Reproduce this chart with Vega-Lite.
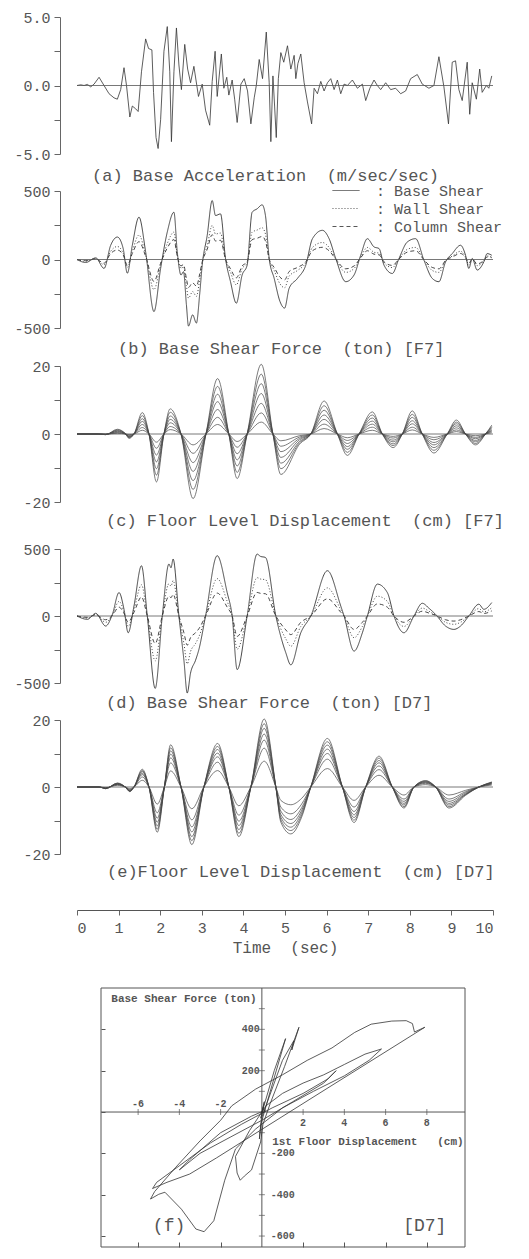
{
"$schema": "https://vega.github.io/schema/vega-lite/v6.json",
"background": "white",
"padding": {"left": 13, "top": 10, "right": 5, "bottom": 2},
"spacing": 0,
"bounds": "flush",
"resolve": {"scale": {"x": "independent", "y": "independent", "strokeDash": "independent"}, "legend": {"strokeDash": "independent"}},
"config": {
  "view": {"stroke": null},
  "font": "Liberation Mono",
  "axis": {"labelFont": "Liberation Mono", "labelFontSize": 15, "labelColor": "#555", "domainColor": "#666", "tickColor": "#666", "grid": false, "titleFont": "Liberation Mono", "titleColor": "#555", "titleFontWeight": "normal"},
  "title": {"font": "Liberation Mono", "fontSize": 17, "fontWeight": "normal", "color": "#555"},
  "line": {"stroke": "#333", "strokeWidth": 0.9}
},
"datasets": {
"acc": [
{"t":0,"a":0},{"t":0.09,"a":0.05},{"t":0.17,"a":0},{"t":0.25,"a":0.08},{"t":0.33,"a":-0.1},{"t":0.41,"a":0.1},{"t":0.53,"a":0.6},{"t":0.65,"a":0},{"t":0.77,"a":-0.6},{"t":0.89,"a":-0.9},{"t":0.97,"a":-1.0},{"t":1.05,"a":-0.3},{"t":1.13,"a":1.3},{"t":1.19,"a":0},{"t":1.27,"a":-2.3},{"t":1.33,"a":-1.5},{"t":1.41,"a":-1.7},{"t":1.47,"a":-1.9},{"t":1.55,"a":1.0},{"t":1.65,"a":3.4},{"t":1.72,"a":2.7},{"t":1.8,"a":2.6},{"t":1.84,"a":-0.5},{"t":1.9,"a":-3.8},{"t":1.95,"a":-4.6},{"t":2.01,"a":-2.5},{"t":2.09,"a":2.5},{"t":2.17,"a":4.3},{"t":2.23,"a":1.0},{"t":2.27,"a":-4.1},{"t":2.33,"a":1.0},{"t":2.39,"a":4.2},{"t":2.45,"a":1.5},{"t":2.51,"a":-0.3},{"t":2.59,"a":3.0},{"t":2.66,"a":1.2},{"t":2.73,"a":0.2},{"t":2.81,"a":1.4},{"t":2.92,"a":-0.8},{"t":3.01,"a":0.1},{"t":3.09,"a":-1.8},{"t":3.19,"a":-2.9},{"t":3.25,"a":0.3},{"t":3.32,"a":2.5},{"t":3.37,"a":-0.8},{"t":3.47,"a":2.3},{"t":3.53,"a":-0.2},{"t":3.6,"a":0.6},{"t":3.65,"a":-0.7},{"t":3.73,"a":0.4},{"t":3.79,"a":-1.0},{"t":3.85,"a":-2.7},{"t":3.94,"a":0.1},{"t":4.02,"a":0.5},{"t":4.1,"a":-0.4},{"t":4.18,"a":-2.8},{"t":4.26,"a":-0.9},{"t":4.31,"a":0},{"t":4.38,"a":1.9},{"t":4.46,"a":0.5},{"t":4.55,"a":3.9},{"t":4.62,"a":0.2},{"t":4.66,"a":-4.1},{"t":4.71,"a":0.7},{"t":4.75,"a":-1.5},{"t":4.79,"a":-3.8},{"t":4.84,"a":0.5},{"t":4.9,"a":2.4},{"t":4.97,"a":1.7},{"t":5.06,"a":2.9},{"t":5.14,"a":1.2},{"t":5.22,"a":2.2},{"t":5.26,"a":0.5},{"t":5.31,"a":1.6},{"t":5.38,"a":2.3},{"t":5.46,"a":0.2},{"t":5.54,"a":-1.2},{"t":5.64,"a":-2.8},{"t":5.7,"a":-0.2},{"t":5.78,"a":-0.6},{"t":5.86,"a":0.3},{"t":5.94,"a":-0.4},{"t":6.02,"a":0.2},{"t":6.1,"a":0.5},{"t":6.18,"a":-0.3},{"t":6.26,"a":0.4},{"t":6.34,"a":-0.6},{"t":6.42,"a":0.1},{"t":6.5,"a":0},{"t":6.62,"a":0.4},{"t":6.74,"a":-0.2},{"t":6.86,"a":0.1},{"t":6.94,"a":-1.1},{"t":7.04,"a":-0.2},{"t":7.14,"a":0.4},{"t":7.22,"a":0},{"t":7.3,"a":-0.3},{"t":7.42,"a":0.2},{"t":7.54,"a":-0.3},{"t":7.66,"a":-0.2},{"t":7.78,"a":-0.6},{"t":7.9,"a":-0.4},{"t":8.02,"a":0.5},{"t":8.18,"a":0.8},{"t":8.3,"a":0.1},{"t":8.46,"a":-0.2},{"t":8.58,"a":0},{"t":8.7,"a":2.1},{"t":8.82,"a":-0.1},{"t":8.93,"a":-2.8},{"t":9.02,"a":1.7},{"t":9.1,"a":1.8},{"t":9.18,"a":-0.3},{"t":9.26,"a":-1.1},{"t":9.38,"a":1.7},{"t":9.44,"a":-2.1},{"t":9.5,"a":0.2},{"t":9.6,"a":-1.0},{"t":9.68,"a":1.2},{"t":9.74,"a":-0.5},{"t":9.84,"a":0},{"t":9.9,"a":-0.2},{"t":9.97,"a":0.7}
],
"bsF7": [
{"t":0,"Base":0,"Wall":0,"Column":0},{"t":0.21,"Base":-22,"Wall":-13,"Column":-9},{"t":0.45,"Base":12,"Wall":7,"Column":5},{"t":0.65,"Base":-65,"Wall":-38,"Column":-27},{"t":0.81,"Base":104,"Wall":60,"Column":44},{"t":0.97,"Base":164,"Wall":95,"Column":69},{"t":1.11,"Base":80,"Wall":46,"Column":34},{"t":1.21,"Base":-100,"Wall":-58,"Column":-42},{"t":1.33,"Base":104,"Wall":60,"Column":44},{"t":1.49,"Base":309,"Wall":179,"Column":130},{"t":1.65,"Base":56,"Wall":32,"Column":24},{"t":1.85,"Base":-380,"Wall":-220,"Column":-160},{"t":2.01,"Base":-65,"Wall":-38,"Column":-27},{"t":2.17,"Base":200,"Wall":116,"Column":84},{"t":2.33,"Base":345,"Wall":200,"Column":145},{"t":2.41,"Base":56,"Wall":32,"Column":24},{"t":2.5,"Base":-113,"Wall":-66,"Column":-47},{"t":2.56,"Base":-89,"Wall":-52,"Column":-37},{"t":2.63,"Base":-330,"Wall":-191,"Column":-139},{"t":2.68,"Base":-486,"Wall":-282,"Column":-204},{"t":2.78,"Base":-404,"Wall":-234,"Column":-170},{"t":2.87,"Base":-464,"Wall":-269,"Column":-195},{"t":2.95,"Base":-250,"Wall":-145,"Column":-105},{"t":3.01,"Base":-41,"Wall":-24,"Column":-17},{"t":3.13,"Base":176,"Wall":102,"Column":74},{"t":3.25,"Base":430,"Wall":249,"Column":181},{"t":3.33,"Base":321,"Wall":186,"Column":135},{"t":3.45,"Base":333,"Wall":193,"Column":140},{"t":3.57,"Base":7,"Wall":4,"Column":3},{"t":3.69,"Base":-162,"Wall":-94,"Column":-68},{"t":3.83,"Base":-319,"Wall":-185,"Column":-134},{"t":3.97,"Base":-113,"Wall":-66,"Column":-47},{"t":4.09,"Base":-41,"Wall":-24,"Column":-17},{"t":4.21,"Base":345,"Wall":200,"Column":145},{"t":4.33,"Base":370,"Wall":215,"Column":155},{"t":4.45,"Base":399,"Wall":231,"Column":168},{"t":4.53,"Base":321,"Wall":186,"Column":135},{"t":4.62,"Base":7,"Wall":4,"Column":3},{"t":4.74,"Base":-138,"Wall":-80,"Column":-58},{"t":4.88,"Base":-307,"Wall":-178,"Column":-129},{"t":4.99,"Base":-355,"Wall":-206,"Column":-149},{"t":5.1,"Base":-210,"Wall":-122,"Column":-88},{"t":5.3,"Base":-138,"Wall":-80,"Column":-58},{"t":5.5,"Base":-41,"Wall":-24,"Column":-17},{"t":5.66,"Base":152,"Wall":88,"Column":64},{"t":5.9,"Base":213,"Wall":124,"Column":89},{"t":6.06,"Base":152,"Wall":88,"Column":64},{"t":6.22,"Base":7,"Wall":4,"Column":3},{"t":6.46,"Base":-162,"Wall":-94,"Column":-68},{"t":6.66,"Base":-113,"Wall":-66,"Column":-47},{"t":6.82,"Base":31,"Wall":18,"Column":13},{"t":6.98,"Base":152,"Wall":88,"Column":64},{"t":7.14,"Base":92,"Wall":53,"Column":39},{"t":7.26,"Base":80,"Wall":46,"Column":34},{"t":7.38,"Base":-41,"Wall":-24,"Column":-17},{"t":7.58,"Base":-102,"Wall":-59,"Column":-43},{"t":7.74,"Base":7,"Wall":4,"Column":3},{"t":7.94,"Base":128,"Wall":74,"Column":54},{"t":8.14,"Base":152,"Wall":88,"Column":64},{"t":8.34,"Base":-5,"Wall":-3,"Column":-2},{"t":8.54,"Base":-138,"Wall":-80,"Column":-58},{"t":8.7,"Base":-162,"Wall":-94,"Column":-68},{"t":8.86,"Base":-17,"Wall":-10,"Column":-7},{"t":9.02,"Base":43,"Wall":25,"Column":18},{"t":9.22,"Base":104,"Wall":60,"Column":44},{"t":9.34,"Base":31,"Wall":18,"Column":13},{"t":9.42,"Base":-65,"Wall":-38,"Column":-27},{"t":9.5,"Base":7,"Wall":4,"Column":3},{"t":9.62,"Base":-77,"Wall":-45,"Column":-32},{"t":9.78,"Base":-17,"Wall":-10,"Column":-7},{"t":9.86,"Base":43,"Wall":25,"Column":18},{"t":9.97,"Base":31,"Wall":18,"Column":13}
],
"dF7": [
{"t":0,"f7":0,"f6":0,"f5":0,"f4":0,"f3":0,"f2":0,"f1":0},
{"t":0.5,"f7":0,"f6":0,"f5":0,"f4":0,"f3":0,"f2":0,"f1":0},
{"t":0.69,"f7":-0.2,"f6":-0.2,"f5":-0.1,"f4":-0.1,"f3":-0.1,"f2":-0.1,"f1":0},
{"t":0.97,"f7":1.4,"f6":1.2,"f5":1.0,"f4":0.8,"f3":0.6,"f2":0.4,"f1":0.2},
{"t":1.17,"f7":0,"f6":0,"f5":0,"f4":0,"f3":0,"f2":0,"f1":0},
{"t":1.25,"f7":-1.3,"f6":-1.1,"f5":-0.9,"f4":-0.8,"f3":-0.6,"f2":-0.4,"f1":-0.2},
{"t":1.37,"f7":0,"f6":0,"f5":0,"f4":0,"f3":0,"f2":0,"f1":0},
{"t":1.57,"f7":6.3,"f6":5.4,"f5":4.5,"f4":3.7,"f3":2.8,"f2":1.9,"f1":1.1},
{"t":1.73,"f7":0,"f6":0,"f5":0,"f4":0,"f3":0,"f2":0,"f1":0},
{"t":1.91,"f7":-14.1,"f6":-12.1,"f5":-10.2,"f4":-8.2,"f3":-6.2,"f2":-4.2,"f1":-2.4},
{"t":2.09,"f7":0,"f6":0,"f5":0,"f4":0,"f3":0,"f2":0,"f1":0},
{"t":2.24,"f7":7.4,"f6":6.4,"f5":5.3,"f4":4.3,"f3":3.3,"f2":2.2,"f1":1.3},
{"t":2.5,"f7":0,"f6":0,"f5":0,"f4":0,"f3":0,"f2":0,"f1":0},
{"t":2.79,"f7":-19,"f6":-16.3,"f5":-13.7,"f4":-11,"f3":-8.4,"f2":-5.7,"f1":-3.2},
{"t":3.1,"f7":0,"f6":0,"f5":0,"f4":0,"f3":0,"f2":0,"f1":0},
{"t":3.38,"f7":16.3,"f6":14,"f5":11.7,"f4":9.5,"f3":7.2,"f2":4.9,"f1":2.8},
{"t":3.65,"f7":0,"f6":0,"f5":0,"f4":0,"f3":0,"f2":0,"f1":0},
{"t":3.85,"f7":-13.1,"f6":-11.3,"f5":-9.4,"f4":-7.6,"f3":-5.8,"f2":-3.9,"f1":-2.2},
{"t":4.09,"f7":0,"f6":0,"f5":0,"f4":0,"f3":0,"f2":0,"f1":0},
{"t":4.43,"f7":20.5,"f6":17.6,"f5":14.8,"f4":11.9,"f3":9,"f2":6.2,"f1":3.5},
{"t":4.71,"f7":0,"f6":0,"f5":0,"f4":0,"f3":0,"f2":0,"f1":0},
{"t":4.9,"f7":-11.9,"f6":-10.2,"f5":-8.6,"f4":-6.9,"f3":-5.2,"f2":-3.6,"f1":-2},
{"t":5.35,"f7":-3,"f6":-2.6,"f5":-2.2,"f4":-1.7,"f3":-1.3,"f2":-0.9,"f1":-0.5},
{"t":5.62,"f7":0,"f6":0,"f5":0,"f4":0,"f3":0,"f2":0,"f1":0},
{"t":5.94,"f7":9.7,"f6":8.3,"f5":7,"f4":5.6,"f3":4.3,"f2":2.9,"f1":1.6},
{"t":6.26,"f7":0,"f6":0,"f5":0,"f4":0,"f3":0,"f2":0,"f1":0},
{"t":6.5,"f7":-6.3,"f6":-5.4,"f5":-4.5,"f4":-3.7,"f3":-2.8,"f2":-1.9,"f1":-1.1},
{"t":6.78,"f7":0,"f6":0,"f5":0,"f4":0,"f3":0,"f2":0,"f1":0},
{"t":7.1,"f7":6.5,"f6":5.6,"f5":4.7,"f4":3.8,"f3":2.9,"f2":2,"f1":1.1},
{"t":7.34,"f7":0,"f6":0,"f5":0,"f4":0,"f3":0,"f2":0,"f1":0},
{"t":7.6,"f7":-4,"f6":-3.4,"f5":-2.9,"f4":-2.3,"f3":-1.8,"f2":-1.2,"f1":-0.7},
{"t":7.82,"f7":0,"f6":0,"f5":0,"f4":0,"f3":0,"f2":0,"f1":0},
{"t":8.06,"f7":6.8,"f6":5.8,"f5":4.9,"f4":3.9,"f3":3,"f2":2,"f1":1.2},
{"t":8.3,"f7":0,"f6":0,"f5":0,"f4":0,"f3":0,"f2":0,"f1":0},
{"t":8.58,"f7":-5.6,"f6":-4.8,"f5":-4,"f4":-3.2,"f3":-2.5,"f2":-1.7,"f1":-1},
{"t":8.9,"f7":0,"f6":0,"f5":0,"f4":0,"f3":0,"f2":0,"f1":0},
{"t":9.12,"f7":4.1,"f6":3.5,"f5":3,"f4":2.4,"f3":1.8,"f2":1.2,"f1":0.7},
{"t":9.34,"f7":0,"f6":0,"f5":0,"f4":0,"f3":0,"f2":0,"f1":0},
{"t":9.58,"f7":-3.2,"f6":-2.8,"f5":-2.3,"f4":-1.9,"f3":-1.4,"f2":-1,"f1":-0.5},
{"t":9.82,"f7":0,"f6":0,"f5":0,"f4":0,"f3":0,"f2":0,"f1":0},
{"t":9.97,"f7":2.6,"f6":2.2,"f5":1.9,"f4":1.5,"f3":1.1,"f2":0.8,"f1":0.4}
],
"bsD7": [
{"t":0,"Base":0,"Wall":0,"Column":0},{"t":0.25,"Base":-25,"Wall":-16,"Column":-10},{"t":0.45,"Base":20,"Wall":12,"Column":8},{"t":0.69,"Base":-75,"Wall":-47,"Column":-28},{"t":0.85,"Base":12,"Wall":7,"Column":5},{"t":1.01,"Base":175,"Wall":109,"Column":66},{"t":1.13,"Base":50,"Wall":31,"Column":19},{"t":1.23,"Base":-125,"Wall":-78,"Column":-47},{"t":1.37,"Base":75,"Wall":47,"Column":28},{"t":1.55,"Base":375,"Wall":233,"Column":142},{"t":1.69,"Base":0,"Wall":0,"Column":0},{"t":1.88,"Base":-540,"Wall":-335,"Column":-205},{"t":2.05,"Base":0,"Wall":0,"Column":0},{"t":2.21,"Base":388,"Wall":241,"Column":147},{"t":2.26,"Base":360,"Wall":223,"Column":137},{"t":2.31,"Base":425,"Wall":264,"Column":161},{"t":2.45,"Base":0,"Wall":0,"Column":0},{"t":2.57,"Base":-330,"Wall":-205,"Column":-125},{"t":2.65,"Base":-575,"Wall":-357,"Column":-218},{"t":2.73,"Base":-425,"Wall":-264,"Column":-161},{"t":2.85,"Base":-330,"Wall":-205,"Column":-125},{"t":2.93,"Base":-250,"Wall":-155,"Column":-95},{"t":3.09,"Base":0,"Wall":0,"Column":0},{"t":3.37,"Base":450,"Wall":279,"Column":171},{"t":3.61,"Base":175,"Wall":109,"Column":66},{"t":3.73,"Base":0,"Wall":0,"Column":0},{"t":3.85,"Base":-400,"Wall":-248,"Column":-152},{"t":4.09,"Base":0,"Wall":0,"Column":0},{"t":4.33,"Base":462,"Wall":286,"Column":176},{"t":4.41,"Base":445,"Wall":276,"Column":169},{"t":4.53,"Base":437,"Wall":271,"Column":166},{"t":4.78,"Base":0,"Wall":0,"Column":0},{"t":5.02,"Base":-275,"Wall":-171,"Column":-104},{"t":5.14,"Base":-365,"Wall":-226,"Column":-139},{"t":5.38,"Base":-125,"Wall":-78,"Column":-47},{"t":5.62,"Base":0,"Wall":0,"Column":0},{"t":6.02,"Base":338,"Wall":210,"Column":128},{"t":6.34,"Base":75,"Wall":47,"Column":28},{"t":6.42,"Base":0,"Wall":0,"Column":0},{"t":6.66,"Base":-262,"Wall":-162,"Column":-100},{"t":6.86,"Base":-125,"Wall":-78,"Column":-47},{"t":6.98,"Base":0,"Wall":0,"Column":0},{"t":7.22,"Base":238,"Wall":148,"Column":90},{"t":7.46,"Base":175,"Wall":109,"Column":66},{"t":7.62,"Base":0,"Wall":0,"Column":0},{"t":7.86,"Base":-125,"Wall":-78,"Column":-47},{"t":8.1,"Base":0,"Wall":0,"Column":0},{"t":8.3,"Base":95,"Wall":59,"Column":36},{"t":8.46,"Base":58,"Wall":36,"Column":22},{"t":8.62,"Base":12,"Wall":7,"Column":5},{"t":8.86,"Base":-75,"Wall":-47,"Column":-28},{"t":9.06,"Base":-100,"Wall":-62,"Column":-38},{"t":9.22,"Base":-75,"Wall":-47,"Column":-28},{"t":9.42,"Base":0,"Wall":0,"Column":0},{"t":9.66,"Base":88,"Wall":55,"Column":33},{"t":9.78,"Base":50,"Wall":31,"Column":19},{"t":9.97,"Base":100,"Wall":62,"Column":38}
],
"dD7": [
{"t":0,"f7":0,"f6":0,"f5":0,"f4":0,"f3":0,"f2":0,"f1":0},
{"t":0.53,"f7":0,"f6":0,"f5":0,"f4":0,"f3":0,"f2":0,"f1":0},
{"t":0.69,"f7":-0.5,"f6":-0.5,"f5":-0.4,"f4":-0.4,"f3":-0.3,"f2":-0.3,"f1":-0.2},
{"t":0.97,"f7":1.2,"f6":1.1,"f5":1.0,"f4":0.9,"f3":0.8,"f2":0.7,"f1":0.5},
{"t":1.16,"f7":0,"f6":0,"f5":0,"f4":0,"f3":0,"f2":0,"f1":0},
{"t":1.27,"f7":-1.4,"f6":-1.3,"f5":-1.2,"f4":-1.1,"f3":-1.0,"f2":-0.8,"f1":-0.5},
{"t":1.37,"f7":0,"f6":0,"f5":0,"f4":0,"f3":0,"f2":0,"f1":0},
{"t":1.57,"f7":5.3,"f6":4.9,"f5":4.6,"f4":4.1,"f3":3.7,"f2":3.0,"f1":2.0},
{"t":1.73,"f7":0,"f6":0,"f5":0,"f4":0,"f3":0,"f2":0,"f1":0},
{"t":1.93,"f7":-13.5,"f6":-12.6,"f5":-11.6,"f4":-10.5,"f3":-9.3,"f2":-7.7,"f1":-5.1},
{"t":2.1,"f7":0,"f6":0,"f5":0,"f4":0,"f3":0,"f2":0,"f1":0},
{"t":2.25,"f7":12.6,"f6":11.7,"f5":10.8,"f4":9.8,"f3":8.7,"f2":7.2,"f1":4.8},
{"t":2.5,"f7":0,"f6":0,"f5":0,"f4":0,"f3":0,"f2":0,"f1":0},
{"t":2.76,"f7":-17.2,"f6":-16.0,"f5":-14.8,"f4":-13.4,"f3":-11.9,"f2":-9.8,"f1":-6.5},
{"t":3.05,"f7":0,"f6":0,"f5":0,"f4":0,"f3":0,"f2":0,"f1":0},
{"t":3.38,"f7":13.0,"f6":12.1,"f5":11.2,"f4":10.1,"f3":9.0,"f2":7.4,"f1":4.9},
{"t":3.65,"f7":0,"f6":0,"f5":0,"f4":0,"f3":0,"f2":0,"f1":0},
{"t":3.89,"f7":-14.8,"f6":-13.8,"f5":-12.7,"f4":-11.5,"f3":-10.2,"f2":-8.4,"f1":-5.6},
{"t":4.18,"f7":0,"f6":0,"f5":0,"f4":0,"f3":0,"f2":0,"f1":0},
{"t":4.5,"f7":20.3,"f6":18.9,"f5":17.5,"f4":15.8,"f3":14.0,"f2":11.6,"f1":7.7},
{"t":4.78,"f7":0,"f6":0,"f5":0,"f4":0,"f3":0,"f2":0,"f1":0},
{"t":4.9,"f7":-10.5,"f6":-9.8,"f5":-9.0,"f4":-8.2,"f3":-7.2,"f2":-6.0,"f1":-4.0},
{"t":5.14,"f7":-14.0,"f6":-13.0,"f5":-12.0,"f4":-10.9,"f3":-9.7,"f2":-8.0,"f1":-5.3},
{"t":5.4,"f7":-9,"f6":-8.4,"f5":-7.7,"f4":-7.0,"f3":-6.2,"f2":-5.1,"f1":-3.4},
{"t":5.62,"f7":0,"f6":0,"f5":0,"f4":0,"f3":0,"f2":0,"f1":0},
{"t":6.02,"f7":14.5,"f6":13.5,"f5":12.5,"f4":11.3,"f3":10.0,"f2":8.3,"f1":5.5},
{"t":6.38,"f7":0,"f6":0,"f5":0,"f4":0,"f3":0,"f2":0,"f1":0},
{"t":6.66,"f7":-10.6,"f6":-9.9,"f5":-9.1,"f4":-8.3,"f3":-7.3,"f2":-6.0,"f1":-4.0},
{"t":6.94,"f7":0,"f6":0,"f5":0,"f4":0,"f3":0,"f2":0,"f1":0},
{"t":7.26,"f7":9.2,"f6":8.6,"f5":7.9,"f4":7.2,"f3":6.3,"f2":5.2,"f1":3.5},
{"t":7.58,"f7":0,"f6":0,"f5":0,"f4":0,"f3":0,"f2":0,"f1":0},
{"t":7.86,"f7":-6.3,"f6":-5.9,"f5":-5.4,"f4":-4.9,"f3":-4.3,"f2":-3.6,"f1":-2.4},
{"t":8.1,"f7":0,"f6":0,"f5":0,"f4":0,"f3":0,"f2":0,"f1":0},
{"t":8.38,"f7":1.9,"f6":1.8,"f5":1.6,"f4":1.5,"f3":1.3,"f2":1.1,"f1":0.7},
{"t":8.62,"f7":0,"f6":0,"f5":0,"f4":0,"f3":0,"f2":0,"f1":0},
{"t":8.94,"f7":-6.3,"f6":-5.9,"f5":-5.4,"f4":-4.9,"f3":-4.3,"f2":-3.6,"f1":-2.4},
{"t":9.34,"f7":-2.5,"f6":-2.3,"f5":-2.2,"f4":-2.0,"f3":-1.7,"f2":-1.4,"f1":-1.0},
{"t":9.66,"f7":0,"f6":0,"f5":0,"f4":0,"f3":0,"f2":0,"f1":0},
{"t":9.97,"f7":1.5,"f6":1.4,"f5":1.3,"f4":1.2,"f3":1.0,"f2":0.9,"f1":0.6}
],
"hyst": [
{"i":0,"x":0,"y":0},{"i":1,"x":0.12,"y":50},{"i":2,"x":-0.05,"y":-30},{"i":3,"x":0.08,"y":25},{"i":4,"x":0,"y":-5},{"i":5,"x":0.6,"y":200},{"i":6,"x":1.15,"y":355},{"i":7,"x":0.34,"y":77},{"i":8,"x":-0.05,"y":-60},{"i":9,"x":-0.12,"y":-130},{"i":10,"x":-0.02,"y":-30},{"i":11,"x":1.0,"y":250},{"i":12,"x":1.55,"y":345},{"i":13,"x":1.45,"y":300},{"i":14,"x":1.8,"y":410},{"i":15,"x":1.1,"y":220},{"i":16,"x":0.4,"y":40},{"i":17,"x":0.05,"y":-60},{"i":18,"x":-0.06,"y":-145},{"i":19,"x":-0.5,"y":-280},{"i":20,"x":-0.85,"y":-310},{"i":21,"x":-1.05,"y":-330},{"i":22,"x":-1.2,"y":-295},{"i":23,"x":-1.28,"y":-215},{"i":24,"x":-0.6,"y":-90},{"i":25,"x":0.2,"y":30},{"i":26,"x":1.0,"y":90},{"i":27,"x":2.0,"y":140},{"i":28,"x":3.0,"y":180},{"i":29,"x":4.0,"y":230},{"i":30,"x":5.0,"y":280},{"i":31,"x":5.8,"y":305},{"i":32,"x":5.2,"y":250},{"i":33,"x":4.0,"y":175},{"i":34,"x":2.5,"y":100},{"i":35,"x":1.0,"y":20},{"i":36,"x":-0.3,"y":-82},{"i":37,"x":-1.28,"y":-179},{"i":38,"x":-1.8,"y":-330},{"i":39,"x":-2.33,"y":-526},{"i":40,"x":-2.8,"y":-579},{"i":41,"x":-3.2,"y":-566},{"i":42,"x":-3.9,"y":-470},{"i":43,"x":-4.7,"y":-388},{"i":44,"x":-5.0,"y":-398},{"i":45,"x":-5.4,"y":-421},{"i":46,"x":-5.2,"y":-385},{"i":47,"x":-4.2,"y":-270},{"i":48,"x":-3.0,"y":-140},{"i":49,"x":-2.0,"y":-40},{"i":50,"x":-1.46,"y":30},{"i":51,"x":-0.3,"y":111},{"i":52,"x":1.0,"y":180},{"i":53,"x":2.2,"y":250},{"i":54,"x":3.4,"y":310},{"i":55,"x":4.5,"y":385},{"i":56,"x":5.3,"y":425},{"i":57,"x":6.3,"y":440},{"i":58,"x":7.0,"y":442},{"i":59,"x":7.3,"y":428},{"i":60,"x":7.4,"y":387},{"i":61,"x":7.9,"y":410},{"i":62,"x":3.4,"y":129},{"i":63,"x":0,"y":-84},{"i":64,"x":-2.2,"y":-222},{"i":65,"x":-3.5,"y":-300},{"i":66,"x":-4.6,"y":-340},{"i":67,"x":-5.3,"y":-370},{"i":68,"x":-5.1,"y":-340},{"i":69,"x":-4.0,"y":-260},{"i":70,"x":-2.5,"y":-150},{"i":71,"x":-1.0,"y":-60},{"i":72,"x":0.5,"y":20},{"i":73,"x":2.0,"y":90},{"i":74,"x":3.2,"y":160},{"i":75,"x":3.6,"y":200},{"i":76,"x":3.0,"y":140},{"i":77,"x":1.5,"y":50},{"i":78,"x":0,"y":-40},{"i":79,"x":-1.5,"y":-120},{"i":80,"x":-3.0,"y":-200},{"i":81,"x":-4.0,"y":-280},{"i":82,"x":-3.5,"y":-230},{"i":83,"x":-2.0,"y":-100},{"i":84,"x":-0.5,"y":-20},{"i":85,"x":0.2,"y":10}
]
},
"vconcat": [
{
  "width": 416, "height": 174,
  "title": {"text": "(a) Base Acceleration \u00a0(m/sec/sec)", "orient": "bottom", "anchor": "start", "align": "left", "frame": "group", "baseline": "middle", "offset": -15, "dx": 15},
  "layer": [
    {"data": {"name": "acc"}, "mark": {"type": "line", "strokeWidth": 0.8},
     "encoding": {
       "x": {"field": "t", "type": "quantitative", "scale": {"domain": [0, 10], "nice": false}, "axis": null},
       "y": {"field": "a", "type": "quantitative", "scale": {"domain": [-5, 5], "range": [137, 0], "nice": false},
             "axis": {"title": null, "offset": 17, "values": [-5, -2.5, 0, 2.5, 5], "tickSize": 6, "labelPadding": 4,
                      "labelExpr": "datum.value == 5 ? '5.0' : datum.value == 0 ? '0.0' : datum.value == -5 ? '-5.0' : ''"}}}},
    {"data": {"values": [{}]}, "mark": {"type": "rule", "color": "#555", "strokeWidth": 0.8}, "encoding": {"y": {"datum": 0}}}
  ]
},
{
  "width": 416, "height": 175,
  "title": {"text": "(b) Base Shear Force \u00a0(ton) [F7]", "orient": "bottom", "anchor": "start", "align": "left", "frame": "group", "baseline": "middle", "offset": -17, "dx": 41},
  "layer": [
    {"data": {"name": "bsF7"}, "transform": [{"fold": ["Base", "Wall", "Column"], "as": ["series", "v"]}],
     "mark": {"type": "line", "interpolate": "monotone", "strokeWidth": 0.9},
     "encoding": {
       "x": {"field": "t", "type": "quantitative", "scale": {"domain": [0, 10], "nice": false}, "axis": null},
       "y": {"field": "v", "type": "quantitative", "scale": {"domain": [-500, 500], "range": [137, 0], "nice": false},
             "axis": {"title": null, "offset": 17, "values": [-500, -250, 0, 250, 500], "tickSize": 6, "labelPadding": 4,
                      "labelExpr": "datum.value == 500 ? '500' : datum.value == 0 ? '0' : datum.value == -500 ? '-500' : ''"}},
       "strokeDash": {"field": "series", "type": "nominal",
          "scale": {"domain": ["Base", "Wall", "Column"], "range": [[1, 0], [1, 2], [4, 3]]},
          "legend": {"orient": "none", "legendX": 255, "legendY": -9, "title": null, "symbolType": "stroke", "symbolSize": 730,
                     "symbolStrokeWidth": 1, "symbolStrokeColor": "#444", "clipHeight": 17, "rowPadding": 1, "labelOffset": 16,
                     "labelFont": "Liberation Mono", "labelFontSize": 15, "labelColor": "#555",
                     "labelExpr": "': ' + datum.label + ' Shear'"}}}},
    {"data": {"values": [{}]}, "mark": {"type": "rule", "color": "#555", "strokeWidth": 0.8}, "encoding": {"y": {"datum": 0}}}
  ]
},
{
  "width": 416, "height": 183,
  "title": {"text": "(c) Floor Level Displacement \u00a0(cm) [F7]", "orient": "bottom", "anchor": "start", "align": "left", "frame": "group", "baseline": "middle", "offset": -28, "dx": 29},
  "layer": [
    {"data": {"name": "dF7"}, "transform": [{"fold": ["f1", "f2", "f3", "f4", "f5", "f6", "f7"], "as": ["floor", "v"]}],
     "mark": {"type": "line", "interpolate": "monotone", "strokeWidth": 0.7, "stroke": "#444"},
     "encoding": {
       "x": {"field": "t", "type": "quantitative", "scale": {"domain": [0, 10], "nice": false}, "axis": null},
       "y": {"field": "v", "type": "quantitative", "scale": {"domain": [-20, 20], "range": [136, 0], "nice": false},
             "axis": {"title": null, "offset": 17, "values": [-20, -10, 0, 10, 20], "tickSize": 6, "labelPadding": 4,
                      "labelExpr": "datum.value == 20 ? '20' : datum.value == 0 ? '0' : datum.value == -20 ? '-20' : ''"}},
       "detail": {"field": "floor", "type": "nominal"}}},
    {"data": {"values": [{}]}, "mark": {"type": "rule", "color": "#555", "strokeWidth": 0.8}, "encoding": {"y": {"datum": 0}}}
  ]
},
{
  "width": 416, "height": 171,
  "title": {"text": "(d) Base Shear Force \u00a0(ton) [D7]", "orient": "bottom", "anchor": "start", "align": "left", "frame": "group", "baseline": "middle", "offset": -17, "dx": 29},
  "layer": [
    {"data": {"name": "bsD7"}, "transform": [{"fold": ["Base", "Wall", "Column"], "as": ["series", "v"]}],
     "mark": {"type": "line", "interpolate": "monotone", "strokeWidth": 0.9},
     "encoding": {
       "x": {"field": "t", "type": "quantitative", "scale": {"domain": [0, 10], "nice": false}, "axis": null},
       "y": {"field": "v", "type": "quantitative", "scale": {"domain": [-500, 500], "range": [134, 0], "nice": false},
             "axis": {"title": null, "offset": 17, "values": [-500, -250, 0, 250, 500], "tickSize": 6, "labelPadding": 4,
                      "labelExpr": "datum.value == 500 ? '500' : datum.value == 0 ? '0' : datum.value == -500 ? '-500' : ''"}},
       "strokeDash": {"field": "series", "type": "nominal",
          "scale": {"domain": ["Base", "Wall", "Column"], "range": [[1, 0], [1, 2], [4, 3]]}, "legend": null}}},
    {"data": {"values": [{}]}, "mark": {"type": "rule", "color": "#555", "strokeWidth": 0.8}, "encoding": {"y": {"datum": 0}}}
  ]
},
{
  "width": 416, "height": 190,
  "title": {"text": "(e)Floor Level Displacement \u00a0(cm) [D7]", "orient": "bottom", "anchor": "start", "align": "left", "frame": "group", "baseline": "middle", "offset": -38, "dx": 30},
  "layer": [
    {"data": {"name": "dD7"}, "transform": [{"fold": ["f1", "f2", "f3", "f4", "f5", "f6", "f7"], "as": ["floor", "v"]}],
     "mark": {"type": "line", "interpolate": "monotone", "strokeWidth": 0.7, "stroke": "#444"},
     "encoding": {
       "x": {"field": "t", "type": "quantitative", "scale": {"domain": [0, 10], "nice": false}, "axis": null},
       "y": {"field": "v", "type": "quantitative", "scale": {"domain": [-20, 20], "range": [134, 0], "nice": false},
             "axis": {"title": null, "offset": 17, "values": [-20, -10, 0, 10, 20], "tickSize": 6, "labelPadding": 4,
                      "labelExpr": "datum.value == 20 ? '20' : datum.value == 0 ? '0' : datum.value == -20 ? '-20' : ''"}},
       "detail": {"field": "floor", "type": "nominal"}}},
    {"data": {"values": [{}]}, "mark": {"type": "rule", "color": "#555", "strokeWidth": 0.8}, "encoding": {"y": {"datum": 0}}}
  ]
},
{
  "width": 416, "height": 78,
  "data": {"values": [{"t": 0}, {"t": 10}]},
  "mark": {"type": "point", "opacity": 0},
  "encoding": {
    "x": {"field": "t", "type": "quantitative", "scale": {"domain": [0, 10], "nice": false},
          "axis": {"orient": "bottom", "offset": -78, "values": [0,1,2,3,4,5,6,7,8,9,10], "tickSize": 5, "labelPadding": 5,
                   "labelFontSize": 15, "title": "Time \u00a0(sec)", "titleFontSize": 16, "titlePadding": 4, "domainColor": "#555"}}
  }
},
{
  "width": 388, "height": 259,
  "layer": [
    {"data": {"values": [{"x1": -7.8, "x2": 9.85, "y1": -653, "y2": 600}]},
     "mark": {"type": "rect", "filled": false, "stroke": "#555", "strokeWidth": 1},
     "encoding": {
       "x": {"field": "x1", "type": "quantitative", "scale": {"domain": [-7.8, 9.85], "range": [24, 388], "nice": false, "zero": false},
             "axis": {"title": null, "labels": false, "domain": false, "values": [-6, -4, -2, 2, 4, 6, 8], "tickSize": -5, "tickColor": "#555"}},
       "x2": {"field": "x2"},
       "y": {"field": "y1", "type": "quantitative", "scale": {"domain": [-653, 600], "nice": false, "zero": false},
             "axis": {"title": null, "labels": false, "domain": false, "offset": -24, "values": [-600, -500, -400, -300, -200, -100, 0, 100, 200, 300, 400, 500], "tickSize": -4, "tickColor": "#555"}},
       "y2": {"field": "y2"}}},
    {"data": {"values": [{"x1": -7.8, "x2": 9.85, "y1": 0, "y2": 0}, {"x1": 0, "x2": 0, "y1": -653, "y2": 600}]},
     "mark": {"type": "rule", "color": "#555", "strokeWidth": 1},
     "encoding": {"x": {"field": "x1", "type": "quantitative"}, "x2": {"field": "x2"}, "y": {"field": "y1", "type": "quantitative"}, "y2": {"field": "y2"}}},
    {"data": {"values": [{"x": -6}, {"x": -4}, {"x": -2}, {"x": 2}, {"x": 4}, {"x": 6}, {"x": 8}]},
     "mark": {"type": "tick", "orient": "vertical", "size": 6, "thickness": 1, "color": "#555"},
     "encoding": {"x": {"field": "x", "type": "quantitative"}, "y": {"datum": 0}}},
    {"data": {"values": [{"y": -600}, {"y": -500}, {"y": -400}, {"y": -300}, {"y": -200}, {"y": -100}, {"y": 100}, {"y": 200}, {"y": 300}, {"y": 400}, {"y": 500}]},
     "mark": {"type": "tick", "orient": "horizontal", "size": 6, "thickness": 1, "color": "#555"},
     "encoding": {"y": {"field": "y", "type": "quantitative"}, "x": {"datum": 0}}},
    {"data": {"values": [{"x": -6, "y": 0, "lab": "-6"}, {"x": -4, "y": 0, "lab": "-4"}, {"x": -2, "y": 0, "lab": "-2"}]},
     "mark": {"type": "text", "dy": -8, "font": "Liberation Mono", "fontSize": 10, "fontWeight": "bold", "color": "#555"},
     "encoding": {"x": {"field": "x", "type": "quantitative"}, "y": {"field": "y", "type": "quantitative"}, "text": {"field": "lab"}}},
    {"data": {"values": [{"x": 2, "y": 0, "lab": "2"}, {"x": 4, "y": 0, "lab": "4"}, {"x": 6, "y": 0, "lab": "6"}, {"x": 8, "y": 0, "lab": "8"}]},
     "mark": {"type": "text", "dy": 11, "font": "Liberation Mono", "fontSize": 10, "fontWeight": "bold", "color": "#555"},
     "encoding": {"x": {"field": "x", "type": "quantitative"}, "y": {"field": "y", "type": "quantitative"}, "text": {"field": "lab"}}},
    {"data": {"values": [{"x": 0, "y": 400, "lab": "400"}, {"x": 0, "y": 200, "lab": "200"}]},
     "mark": {"type": "text", "align": "right", "dx": -2, "font": "Liberation Mono", "fontSize": 10, "fontWeight": "bold", "color": "#555"},
     "encoding": {"x": {"field": "x", "type": "quantitative"}, "y": {"field": "y", "type": "quantitative"}, "text": {"field": "lab"}}},
    {"data": {"values": [{"x": 0, "y": -200, "lab": "-200"}, {"x": 0, "y": -400, "lab": "-400"}, {"x": 0, "y": -600, "lab": "-600"}]},
     "mark": {"type": "text", "align": "left", "dx": 9, "font": "Liberation Mono", "fontSize": 10, "fontWeight": "bold", "color": "#555"},
     "encoding": {"x": {"field": "x", "type": "quantitative"}, "y": {"field": "y", "type": "quantitative"}, "text": {"field": "lab"}}},
    {"data": {"values": [{"x": -7.3, "y": 545, "lab": "Base Shear Force (ton)"}, {"x": 0.5, "y": -145, "lab": "1st Floor Displacement \u00a0 (cm)"}]},
     "mark": {"type": "text", "align": "left", "font": "Liberation Mono", "fontSize": 11, "fontWeight": "bold", "color": "#555"},
     "encoding": {"x": {"field": "x", "type": "quantitative"}, "y": {"field": "y", "type": "quantitative"}, "text": {"field": "lab"}}},
    {"data": {"values": [{"x": -4.5, "y": -551, "lab": "(f)"}, {"x": 7.9, "y": -551, "lab": "[D7]"}]},
     "mark": {"type": "text", "align": "center", "font": "Liberation Mono", "fontSize": 18, "color": "#555"},
     "encoding": {"x": {"field": "x", "type": "quantitative"}, "y": {"field": "y", "type": "quantitative"}, "text": {"field": "lab"}}},
    {"data": {"name": "hyst"},
     "mark": {"type": "line", "strokeWidth": 0.8, "stroke": "#333"},
     "encoding": {"x": {"field": "x", "type": "quantitative"}, "y": {"field": "y", "type": "quantitative"}, "order": {"field": "i", "type": "quantitative"}}}
  ]
}
]
}
